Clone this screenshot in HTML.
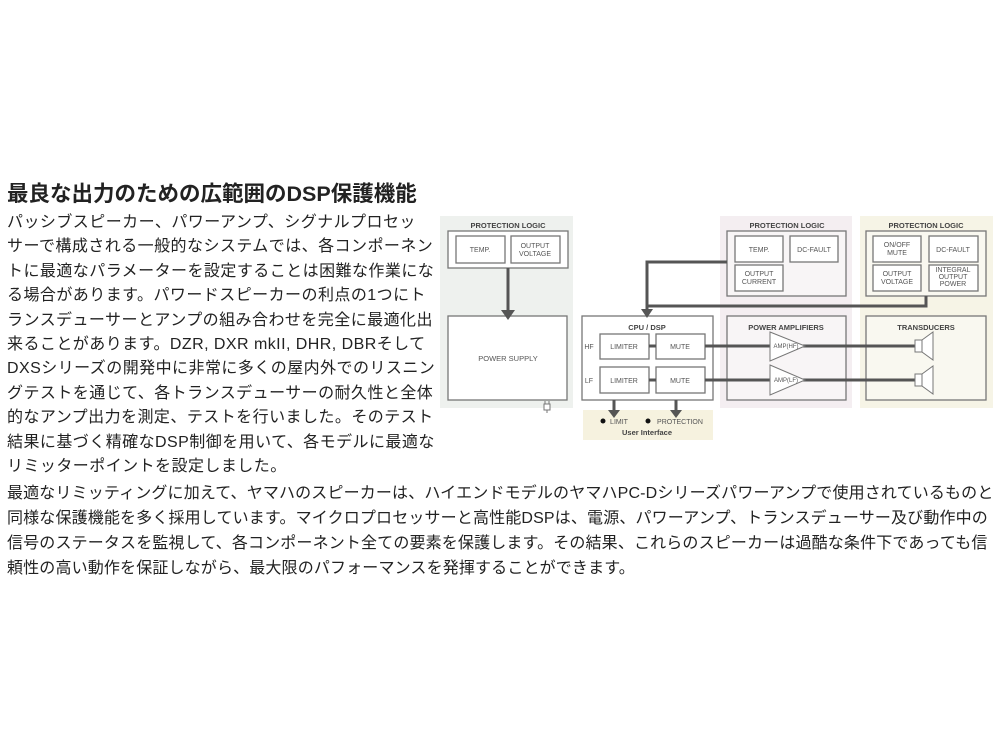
<!DOCTYPE html>
<html><head><meta charset="utf-8"><style>
body{margin:0;width:1000px;height:750px;background:#fff;position:relative;overflow:hidden;font-family:"Liberation Sans","Noto Sans CJK JP",sans-serif;color:#222}
.t{position:absolute;left:7px;top:177px;font-size:21.5px;font-weight:bold;white-space:nowrap}
.p{position:absolute;left:7px;font-size:16px;letter-spacing:0.45px;line-height:24.4px;white-space:nowrap}
.q{position:absolute;left:7px;top:481px;font-size:16px;letter-spacing:0.15px;line-height:25px;white-space:nowrap}
svg text{font-family:"Liberation Sans",sans-serif;fill:#555}
</style></head><body>
<div class="t">最良な出力のための広範囲のDSP保護機能</div>
<div class="p" style="top:211px">パッシブスピーカー、パワーアンプ、シグナルプロセッ<br>サーで構成される一般的なシステムでは、各コンポーネン<br>トに最適なパラメーターを設定することは困難な作業にな<br>る場合があります。パワードスピーカーの利点の1つにト<br>ランスデューサーとアンプの組み合わせを完全に最適化出<br>来ることがあります。DZR, DXR mkII, DHR, DBRそして<br>DXSシリーズの開発中に非常に多くの屋内外でのリスニン<br>グテストを通じて、各トランスデューサーの耐久性と全体<br>的なアンプ出力を測定、テストを行いました。そのテスト<br>結果に基づく精確なDSP制御を用いて、各モデルに最適な<br>リミッターポイントを設定しました。</div>
<div class="q">最適なリミッティングに加えて、ヤマハのスピーカーは、ハイエンドモデルのヤマハPC-Dシリーズパワーアンプで使用されているものと<br>同様な保護機能を多く採用しています。マイクロプロセッサーと高性能DSPは、電源、パワーアンプ、トランスデューサー及び動作中の<br>信号のステータスを監視して、各コンポーネント全ての要素を保護します。その結果、これらのスピーカーは過酷な条件下であっても信<br>頼性の高い動作を保証しながら、最大限のパフォーマンスを発揮することができます。</div>
<svg style="position:absolute;left:0;top:0" width="1000" height="750">
<g>
<rect x="440" y="216" width="133" height="192" fill="#eef1ee"/>
<rect x="720" y="216" width="132" height="192" fill="#f4eef1"/>
<rect x="860" y="216" width="133" height="192" fill="#f6f4e6"/>
<rect x="583" y="410" width="130" height="30" fill="#f6f2df"/>
</g>
<g fill="#fff" stroke="#777" stroke-width="1.3">
<rect x="448" y="231" width="120" height="37"/>
<rect x="456" y="236" width="49" height="27"/>
<rect x="511" y="236" width="49" height="27"/>
<rect x="448" y="316" width="119" height="84"/>
<rect x="582" y="316" width="131" height="84"/>
<rect x="600" y="334" width="49" height="25"/>
<rect x="656" y="334" width="49" height="25"/>
<rect x="600" y="367" width="49" height="26"/>
<rect x="656" y="367" width="49" height="26"/>
<rect x="727" y="231" width="119" height="65" fill="#f8f5f6"/>
<rect x="735" y="236" width="48" height="26"/>
<rect x="790" y="236" width="48" height="26"/>
<rect x="735" y="265" width="48" height="26"/>
<rect x="866" y="231" width="120" height="65" fill="#f9f8f0"/>
<rect x="873" y="236" width="48" height="26"/>
<rect x="929" y="236" width="49" height="26"/>
<rect x="873" y="265" width="48" height="26"/>
<rect x="929" y="265" width="49" height="26"/>
<rect x="727" y="316" width="119" height="84" fill="#f8f5f6"/>
<rect x="866" y="316" width="120" height="84" fill="#f9f8f0"/>
</g>
<g stroke="#555" stroke-width="3" fill="none">
<path d="M508 268V314"/>
<path d="M727 262H647V312"/>
<path d="M647 306H926V296"/>
<path d="M649 346H656M649 380H656"/>
<path d="M705 346H915M705 380H915"/>
<path d="M614 400V414M676 400V414"/>
</g>
<g fill="#555">
<path d="M501 310L515 310L508 320Z"/>
<path d="M641 309L653 309L647 318Z"/>
<path d="M608 410L620 410L614 418Z"/>
<path d="M670 410L682 410L676 418Z"/>
</g>
<g fill="#fff" stroke="#777" stroke-width="1">
<path d="M770 332L805 346L770 361Z"/>
<path d="M770 365L805 380L770 395Z"/>
<rect x="915" y="340" width="7" height="12"/>
<path d="M922 340L933 332V360L922 352Z"/>
<rect x="915" y="374" width="7" height="12"/>
<path d="M922 374L933 366V394L922 386Z"/>
<rect x="544" y="404" width="6" height="6"/>
<path d="M545 401V404M549 401V404M547 410V413"/>
</g>
<g font-size="6" text-anchor="middle">
<text x="786" y="348">AMP(HF)</text><text x="786" y="382">AMP(LF)</text>
</g>
<g font-size="7.5" font-weight="bold" text-anchor="middle" fill="#444">
<text x="508" y="228" style="fill:#444">PROTECTION LOGIC</text>
<text x="787" y="228" style="fill:#444">PROTECTION LOGIC</text>
<text x="926" y="228" style="fill:#444">PROTECTION LOGIC</text>
<text x="647" y="330" style="fill:#444">CPU / DSP</text>
<text x="786" y="330" style="fill:#444">POWER AMPLIFIERS</text>
<text x="926" y="330" style="fill:#444">TRANSDUCERS</text>
<text x="647" y="435" style="fill:#444">User Interface</text>
</g>
<g font-size="7" text-anchor="middle">
<text x="480" y="252">TEMP.</text>
<text x="535" y="248">OUTPUT</text><text x="535" y="256">VOLTAGE</text>
<text x="508" y="361" font-size="7.5">POWER SUPPLY</text>
<text x="624" y="349">LIMITER</text><text x="680" y="349">MUTE</text>
<text x="624" y="383">LIMITER</text><text x="680" y="383">MUTE</text>
<text x="589" y="349">HF</text><text x="589" y="383">LF</text>
<text x="759" y="252">TEMP.</text>
<text x="814" y="252">DC-FAULT</text>
<text x="759" y="276">OUTPUT</text><text x="759" y="284">CURRENT</text>
<text x="897" y="247">ON/OFF</text><text x="897" y="255">MUTE</text>
<text x="953" y="252">DC-FAULT</text>
<text x="897" y="276">OUTPUT</text><text x="897" y="284">VOLTAGE</text>
<text x="953" y="272">INTEGRAL</text><text x="953" y="279">OUTPUT</text><text x="953" y="286">POWER</text>
<text x="619" y="424">LIMIT</text>
<text x="680" y="424">PROTECTION</text>
</g>
<circle cx="603" cy="421" r="2.5" fill="#111"/>
<circle cx="648" cy="421" r="2.5" fill="#111"/>
</svg>
</body></html>
